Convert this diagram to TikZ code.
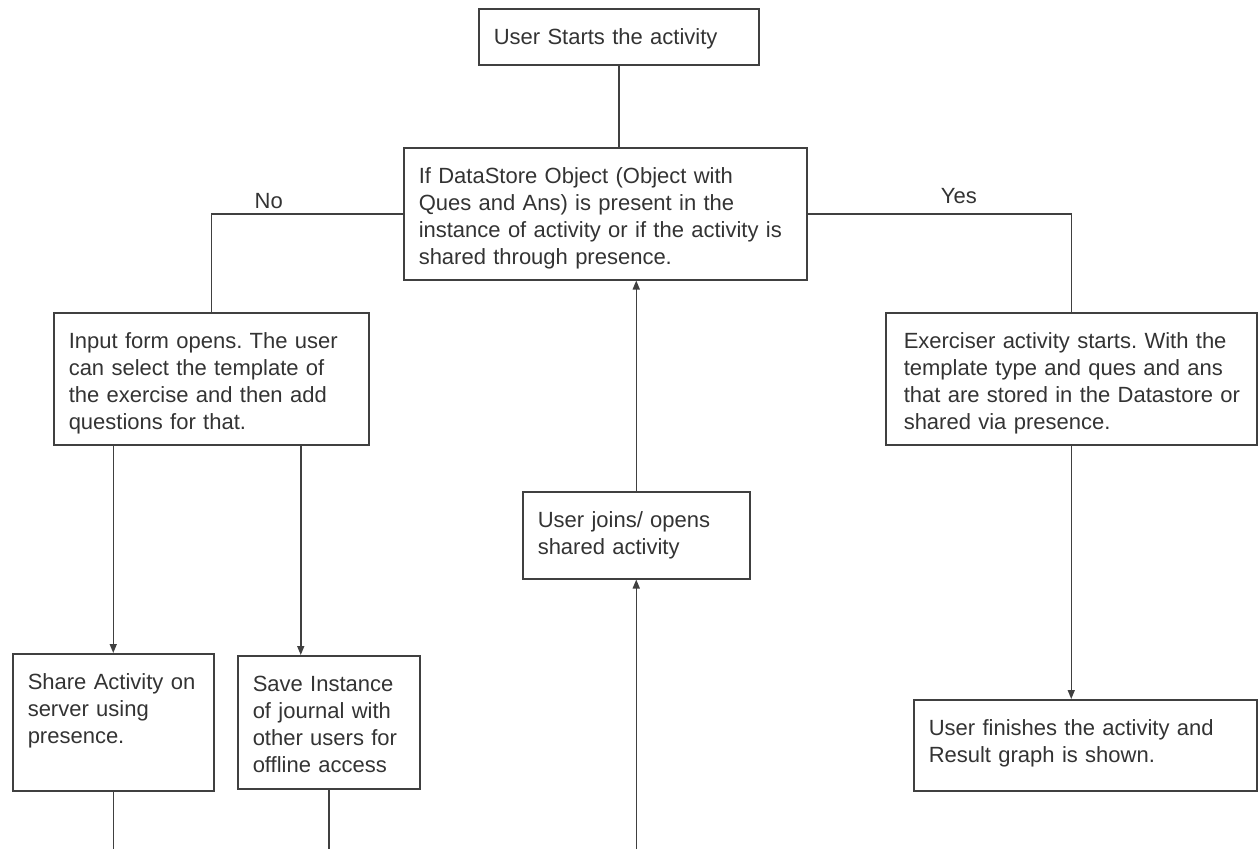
\documentclass[tikz,border=0pt]{standalone}
\usepackage{fontspec}
\setmainfont{Liberation Sans}
\usepackage{tikz}
\usetikzlibrary{arrows.meta, positioning}
\definecolor{linegray}{HTML}{404040}
\definecolor{textgray}{HTML}{333333}
\frenchspacing

\begin{document}
\begin{tikzpicture}[
    x=1pt, y=-1pt,
    font=\fontsize{22}{27}\selectfont,
    box/.style={rectangle, draw=linegray, line width=1.5pt, anchor=north west, align=left, inner xsep=15pt, inner ysep=0pt, text height=36pt, text=textgray},
    line/.style={draw=linegray, line width=1.5pt},
    arrow/.style={line, -{Triangle[length=9pt, width=7pt]}},
    lbl/.style={anchor=base, inner sep=0pt, text=textgray}
]
    \useasboundingbox (0,0) rectangle (1258,849);

    % top
    \node[box, text width=250pt, text depth=20pt] (start) at (478,8) {User Starts the activity};
    \node[box, text width=373pt, text depth=96pt] (cond) at (403,147) {If DataStore Object (Object with\\Ques and Ans) is present in the\\\mbox{instance of activity or if the activity is}\\shared through presence.};

    % branches
    \node[box, text width=285pt, text depth=96pt] (input) at (53,312) {Input form opens. The user\\can select the template of\\the exercise and then add\\questions for that.};
    \node[box, inner xsep=18pt, text width=335pt, text depth=96pt] (exer) at (885,312) {Exerciser activity starts. With the\\template type and ques and ans\\\mbox{that are stored in the Datastore or}\\shared via presence.};
    \node[box, text width=197pt, text depth=51pt] (joins) at (522,491) {User joins/ opens\\shared activity};

    % bottom row
    \node[box, text width=171pt, text depth=101pt] (share) at (12,653) {Share Activity on\\server using\\presence.};
    \node[box, text width=152pt, text depth=97pt] (save) at (237,655) {Save Instance\\of journal with\\other users for\\offline access};
    \node[box, text width=313pt, text depth=55pt] (finish) at (913,699) {User finishes the activity and\\Result graph is shown.};

    \coordinate (bottom) at (0,849);

    % connectors
    \draw[line] (start.south) -- (start.south |- cond.north);
    \draw[line] (cond.west) -| node[lbl, pos=0.35, yshift=5pt] {No} (input.north);
    \draw[line] (cond.east) -| node[lbl, pos=0.287, yshift=10pt] {Yes} (exer.north);
    \draw[arrow] (joins.north) -- (joins.north |- cond.south);
    \draw[arrow] (joins.south |- bottom) -- (joins.south);
    \draw[arrow] (share.north |- input.south) -- (share.north);
    \draw[arrow] ([xshift=-28pt]save.north |- input.south) -- ([xshift=-28pt]save.north);
    \draw[arrow] (exer.south) -- (exer.south |- finish.north);
    \draw[line] (share.south) -- (share.south |- bottom);
    \draw[line] (save.south) -- (save.south |- bottom);
\end{tikzpicture}
\end{document}
